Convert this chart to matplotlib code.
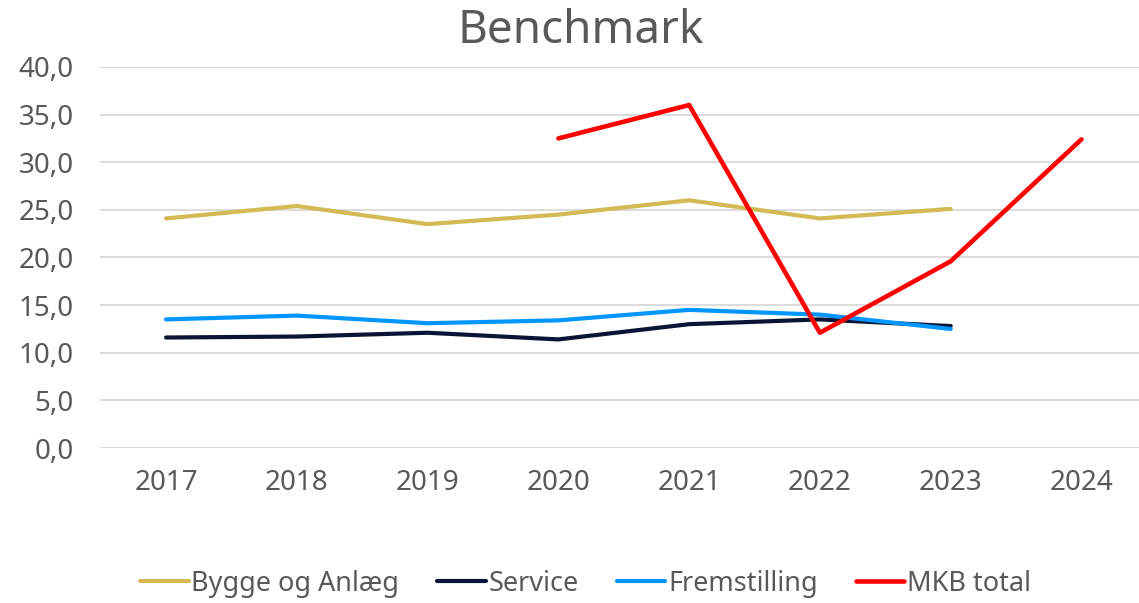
import matplotlib.pyplot as plt
import numpy as np

plt.rcParams['font.family'] = ['Noto Sans', 'DejaVu Sans']

years = ["2017", "2018", "2019", "2020", "2021", "2022", "2023", "2024"]

bygge = [24.1, 25.4, 23.5, 24.5, 26.0, 24.1, 25.1, np.nan]
service = [11.6, 11.7, 12.1, 11.4, 13.0, 13.5, 12.8, np.nan]
fremstilling = [13.5, 13.9, 13.1, 13.4, 14.5, 14.0, 12.5, np.nan]
mkb_total = [np.nan, np.nan, np.nan, 32.5, 36.0, 12.1, 19.6, 32.4]

text_color = "#595959"

fig = plt.figure(figsize=(11.39, 6.03), dpi=100)
ax = fig.add_axes([0.0878, 0.257, 0.9122, 0.632])

x = np.arange(len(years))
ax.plot(x, bygge, color="#D4B955", lw=3, label="Bygge og Anlæg", solid_capstyle="round")
ax.plot(x, service, color="#0A1535", lw=3, label="Service", solid_capstyle="round")
ax.plot(x, fremstilling, color="#0096FF", lw=3, label="Fremstilling", solid_capstyle="round")
ax.plot(x, mkb_total, color="#FF0000", lw=3.3, label="MKB total", solid_capstyle="round")

ax.set_xlim(-0.505, 7.44)
ax.set_ylim(0, 40)
ax.set_yticks(np.arange(0, 41, 5))
ax.set_yticklabels([f"{v:.1f}".replace(".", ",") for v in np.arange(0, 41, 5)])
ax.set_xticks(x)
ax.set_xticklabels(years)
ax.tick_params(axis="both", length=0, labelsize=20, colors=text_color)
ax.tick_params(axis="y", pad=19)
ax.tick_params(axis="x", pad=15)
ax.grid(axis="y", color="#D9D9D9", lw=1.3)
ax.set_axisbelow(True)
for s in ax.spines.values():
    s.set_visible(False)

fig.text(0.51, 0.948, "Benchmark", ha="center", va="center", fontsize=33, color=text_color)

leg = fig.legend(loc="center", bbox_to_anchor=(0.514, 0.032), ncol=4, frameon=False,
                 fontsize=19.5, handlelength=1.8, handletextpad=0.1, columnspacing=1.4)
for t in leg.get_texts():
    t.set_color(text_color)

fig.savefig("out.png", dpi=100)
